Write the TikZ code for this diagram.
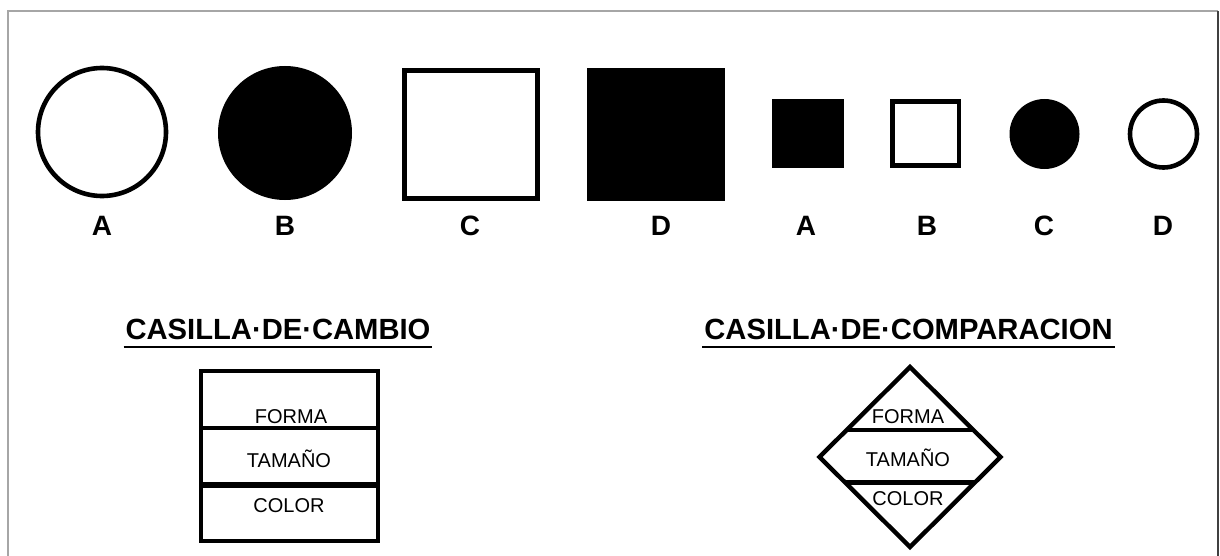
\documentclass[tikz,border=0pt]{standalone}
\usepackage{fontspec}
\setmainfont{Liberation Sans}
\usetikzlibrary{shapes.geometric, positioning, calc}

\begin{document}
\begin{tikzpicture}[
    x=0.5pt, y=-0.5pt,
    every node/.style={inner sep=0pt, outer sep=0pt},
    hollow/.style={draw=black, line width=2.3pt, fill=white},
    solid/.style={fill=black},
    letter/.style={font=\fontsize{14}{16}\selectfont\bfseries, anchor=base},
    heading/.style={font=\fontsize{14.6}{17}\selectfont\bfseries, anchor=base},
    cell/.style={font=\fontsize{10}{12}\selectfont, anchor=base},
    divider/.style={line width=2pt}
]
\useasboundingbox (0,0) rectangle (1220,556);

% frame
\draw[gray!70, line width=1pt] (8,556) -- (8,11) -- (1218,11);
\draw[black!75, line width=1.2pt] (1218,11) -- (1218,556);

% big figures
\node (bigA) [hollow, circle, minimum size=64pt] at (102,132) {};
\node (bigB) [solid, circle, minimum size=67pt] at (285,133) {};
\node (bigC) [hollow, rectangle, minimum width=66.5pt, minimum height=64pt] at (471,134.5) {};
\node (bigD) [solid, rectangle, minimum width=69pt, minimum height=66.5pt] at (656,134.5) {};

% small figures
\node (smallA) [solid, rectangle, minimum width=36pt, minimum height=34.5pt] at (807.5,133.7) {};
\node (smallB) [hollow, rectangle, minimum width=33.3pt, minimum height=32pt] at (925.8,133.7) {};
\node (smallC) [solid, circle, minimum size=35pt] at (1044.5,134) {};
\node (smallD) [hollow, circle, minimum size=33.5pt] at (1163.5,134) {};

% letters
\node (lbigA) [letter] at (102,235) {A};
\node (lbigB) [letter] at (285,235) {B};
\node (lbigC) [letter] at (470,235) {C};
\node (lbigD) [letter] at (661,235) {D};
\node (lsmallA) [letter] at (806,235) {A};
\node (lsmallB) [letter] at (927,235) {B};
\node (lsmallC) [letter] at (1044,235) {C};
\node (lsmallD) [letter] at (1163,235) {D};

% headings
\node (tcambio) [heading] at (278,339) {CASILLA·DE·CAMBIO};
\node (tcompara) [heading] at (908.5,339) {CASILLA·DE·COMPARACION};
\draw[line width=1.1pt] ([xshift=-1pt, yshift=-4pt]tcambio.base west) -- ([xshift=1pt, yshift=-4pt]tcambio.base east);
\draw[line width=1.1pt] ([xshift=-1pt, yshift=-4pt]tcompara.base west) -- ([xshift=1pt, yshift=-4pt]tcompara.base east);

% casilla de cambio
\node (cambio) [draw, line width=2.2pt, rectangle, minimum width=88.5pt, minimum height=85pt] at (289.5,456) {};
\draw[divider] (cambio.west |- 0,428) -- (cambio.east |- 0,428);
\draw[divider, line width=3pt] (cambio.west |- 0,485) -- (cambio.east |- 0,485);
\node (cforma) [cell] at (291,423) {FORMA};
\node (ctamano) [cell] at (289,467) {TAMAÑO};
\node (ccolor) [cell] at (289,512) {COLOR};

% casilla de comparacion
\node (compara) [draw, line width=2.2pt, diamond, minimum width=90.5pt, minimum height=90pt] at (910,457) {};
\draw[divider] ($(compara.north)!0.70!(compara.west)$) -- ($(compara.north)!0.70!(compara.east)$);
\draw[divider, line width=2.5pt] ($(compara.south)!0.722!(compara.west)$) -- ($(compara.south)!0.722!(compara.east)$);
\node (dforma) [cell] at (908,423) {FORMA};
\node (dtamano) [cell] at (908,466) {TAMAÑO};
\node (dcolor) [cell] at (908,505) {COLOR};
\end{tikzpicture}
\end{document}
